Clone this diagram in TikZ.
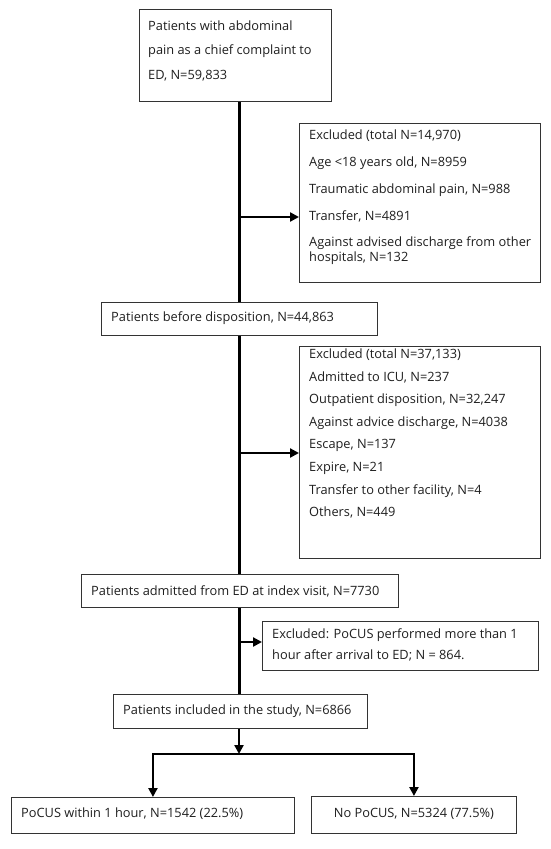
\documentclass[tikz,border=0pt]{standalone}
\usepackage{fontspec}
\setmainfont{Open Sans}
\usetikzlibrary{arrows.meta}
\definecolor{txtc}{HTML}{1F1F1F}
\definecolor{boxc}{HTML}{333333}
\newcommand{\boxlines}[2]{\parbox[t]{#1}{\raggedright #2}}
\begin{document}
\begin{tikzpicture}[x=1pt,y=-1pt,
  box/.style={draw=boxc, line width=0.9pt, anchor=north west, inner sep=0pt, fill=white},
  txt/.style={anchor=base west, inner sep=0pt, text=txtc, font=\fontsize{12.8}{15}\selectfont},
  spine/.style={line width=3pt, draw=black},
  arr/.style={line width=2.8pt, draw=black, -{Triangle[length=9pt,width=9pt]}},
]
\path[use as bounding box] (0,0) rectangle (550,849);

% boxes
\node[box, minimum width=192pt, minimum height=92pt]  (b1) at (139,9) {};
\node[box, minimum width=241pt, minimum height=159pt] (b2) at (299,123) {};
\node[box, minimum width=276pt, minimum height=33pt]  (b3) at (101,302) {};
\node[box, minimum width=241pt, minimum height=212pt] (b4) at (299,346) {};
\node[box, minimum width=317pt, minimum height=33pt]  (b5) at (81,574) {};
\node[box, minimum width=276pt, minimum height=49pt]  (b6) at (262,621) {};
\node[box, minimum width=254pt, minimum height=34pt]  (b7) at (113,694) {};
\node[box, minimum width=283pt, minimum height=36pt]  (b8) at (11,797) {};
\node[box, minimum width=205pt, minimum height=37pt]  (b9) at (311,796) {};

% texts
\node[txt] (t1) at ([shift={(9,21)}]b1.north west)
  {\boxlines{180pt}{Patients with abdominal\\[9.5pt]pain as a chief complaint to\\[9.5pt]ED, N=59,833}};
\node[txt] (t2) at ([shift={(10,16.5)}]b2.north west)
  {\boxlines{228pt}{Excluded (total N=14,970)\\[12pt]Age <18 years old, N=8959\\[12pt]Traumatic abdominal pain, N=988\\[12pt]Transfer, N=4891\\[11pt]Against advised discharge from other\\hospitals, N=132}};
\node[txt] (t3) at ([shift={(10,19.5)}]b3.north west)
  {Patients before disposition, N=44,863};
\node[txt] (t4) at ([shift={(10,12.5)}]b4.north west)
  {\boxlines{228pt}{Excluded (total N=37,133)\\[7.6pt]Admitted to ICU, N=237\\[7.6pt]Outpatient disposition, N=32,247\\[7.6pt]Against advice discharge, N=4038\\[7.6pt]Escape, N=137\\[7.6pt]Expire, N=21\\[7.6pt]Transfer to other facility, N=4\\[7.6pt]Others, N=449}};
\node[txt] (t5) at ([shift={(10,21)}]b5.north west)
  {Patients admitted from ED at index visit, N=7730};
\node[txt] (t6) at ([shift={(10,17.5)}]b6.north west)
  {\boxlines{262pt}{Excluded: PoCUS performed more than 1\\[6pt]hour after arrival to ED; N = 864.}};
\node[txt] (t7) at ([shift={(10,20.5)}]b7.north west)
  {Patients included in the study, N=6866};
\node[txt] (t8) at ([shift={(10,20.5)}]b8.north west)
  {PoCUS within 1 hour, N=1542 (22.5\%)};
\coordinate (y9) at (0,817);
\node[txt, anchor=base] (t9) at (b9.center |- y9)
  {No PoCUS, N=5324 (77.5\%)};

% connectors
\coordinate (j1) at (239,217);
\coordinate (j2) at (239,453);
\coordinate (j3) at (239,642);
\coordinate (j4) at (239,754);
\draw[spine] (b1.south -| j1) -- (b3.north -| j1);
\draw[spine] (b3.south -| j1) -- (b5.north -| j1);
\draw[spine] (b5.south -| j1) -- (b7.north -| j1);
\draw[arr] (j1) -- (j1 -| b2.west);
\draw[arr] (j2) -- (j2 -| b4.west);
\draw[arr] (j3) -- (j3 -| b6.west);
\draw[arr] (j4) -| (b8.north);
\draw[arr] (j4) -| (b9.north);
\draw[arr] (b7.south -| j4) -- (j4);
\end{tikzpicture}
\end{document}
